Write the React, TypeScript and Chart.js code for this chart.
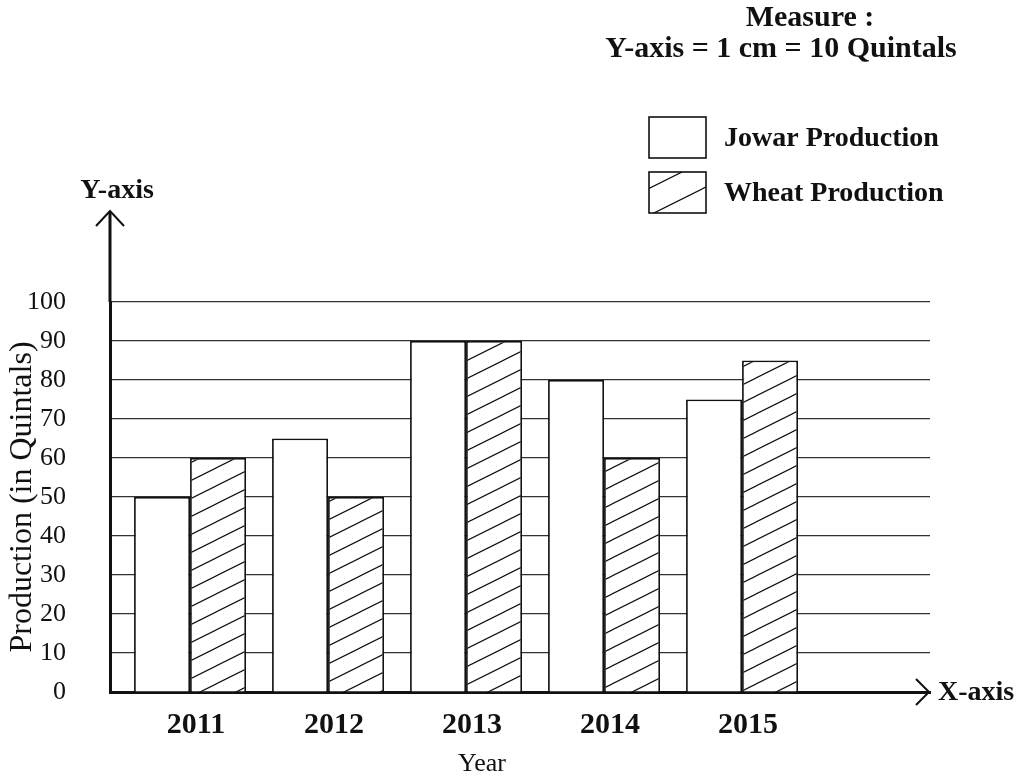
import { useEffect, useRef } from 'react';
import { Chart, registerables } from 'chart.js';

Chart.register(...registerables);

const years = [2011, 2012, 2013, 2014, 2015];
const jowarProduction = [50, 65, 90, 80, 75];
const wheatProduction = [60, 50, 90, 60, 85];
const yTickValues = [0, 10, 20, 30, 40, 50, 60, 70, 80, 90, 100];
const seriesLabels = ['Jowar Production', 'Wheat Production'];
const measureLines = ['Measure :', 'Y-axis = 1 cm = 10 Quintals'];
const xAxisName = 'X-axis';
const yAxisName = 'Y-axis';
const xTitle = 'Year';
const yTitle = 'Production (in Quintals)';

const SERIF = '"Liberation Serif", "Times New Roman", serif';
const INK = '#111';

function makeHatch(h: number, lw: number): CanvasPattern | string {
  const w = h * 2;
  const c = document.createElement('canvas');
  c.width = w;
  c.height = h;
  const g = c.getContext('2d');
  if (!g) return '#fff';
  g.fillStyle = '#fff';
  g.fillRect(0, 0, w, h);
  g.strokeStyle = INK;
  g.lineWidth = lw;
  g.beginPath();
  for (const dx of [-w, 0, w]) {
    for (const dy of [-h, 0, h]) {
      g.moveTo(dx, h + dy);
      g.lineTo(dx + w, dy);
    }
  }
  g.stroke();
  const p = g.createPattern(c, 'repeat');
  return p || '#fff';
}

export default function App() {
  const ref = useRef<HTMLCanvasElement | null>(null);

  useEffect(() => {
    const canvas = ref.current;
    if (!canvas) return;
    const barHatch = makeHatch(18, 1.2);
    const legendHatch = makeHatch(27, 1.2);

    const decor = {
      id: 'decor',
      afterDraw(chart: any) {
        const ctx = chart.ctx as CanvasRenderingContext2D;
        const area = chart.chartArea;
        const x0 = area.left;
        const y0 = area.bottom;
        ctx.save();
        ctx.strokeStyle = INK;
        ctx.fillStyle = INK;
        // Y axis extension + arrow
        const yTip = area.top - 91;
        ctx.lineWidth = 3;
        ctx.beginPath();
        ctx.moveTo(x0, area.top);
        ctx.lineTo(x0, yTip + 1);
        ctx.stroke();
        ctx.lineWidth = 2;
        ctx.beginPath();
        ctx.moveTo(x0 - 14, yTip + 15);
        ctx.lineTo(x0, yTip);
        ctx.lineTo(x0 + 14, yTip + 15);
        ctx.stroke();
        // X axis arrow
        const xTip = area.right - 1;
        ctx.beginPath();
        ctx.moveTo(xTip - 13, y0 - 13);
        ctx.lineTo(xTip, y0);
        ctx.lineTo(xTip - 13, y0 + 13);
        ctx.stroke();

        ctx.font = `bold 28px ${SERIF}`;
        ctx.textBaseline = 'middle';
        ctx.textAlign = 'left';
        ctx.fillText(xAxisName, area.right + 8, y0 + 1);
        ctx.textAlign = 'center';
        ctx.fillText(yAxisName, x0 + 7, yTip - 20);

        // X axis title
        ctx.font = `26px ${SERIF}`;
        ctx.fillText(xTitle, 482, 764);

        // Legend
        const boxes = [117, 172];
        chart.data.datasets.forEach((ds: any, i: number) => {
          const by = boxes[i];
          ctx.fillStyle = i === 1 ? legendHatch : '#fff';
          ctx.fillRect(649, by, 57, 41);
          ctx.lineWidth = 1.6;
          ctx.strokeStyle = INK;
          ctx.strokeRect(649, by, 57, 41);
          ctx.fillStyle = INK;
          ctx.textAlign = 'left';
          ctx.font = `bold 28px ${SERIF}`;
          ctx.fillText(ds.label, 724, by + 22);
        });

        // Measure title
        ctx.font = `bold 30px ${SERIF}`;
        ctx.textAlign = 'center';
        ctx.fillText(measureLines[0], 810, 18);
        ctx.fillText(measureLines[1], 781, 49);
        ctx.restore();
      },
    };

    const chart = new Chart(canvas, {
      type: 'bar',
      data: {
        datasets: [
          {
            label: seriesLabels[0],
            data: years.map((x, i) => ({ x, y: jowarProduction[i] })),
            backgroundColor: '#ffffff',
            borderColor: INK,
            borderWidth: 1.8,
            categoryPercentage: 0.8116,
            barPercentage: 1,
          },
          {
            label: seriesLabels[1],
            data: years.map((x, i) => ({ x, y: wheatProduction[i] })),
            backgroundColor: barHatch as any,
            borderColor: INK,
            borderWidth: 1.8,
            categoryPercentage: 0.8116,
            barPercentage: 1,
          },
        ],
      },
      options: {
        responsive: false,
        animation: false,
        layout: { padding: { top: 302, right: 87, left: 0, bottom: 0 } },
        scales: {
          x: {
            type: 'linear',
            min: 2010.42,
            max: 2016.362,
            offset: false,
            z: 1,
            afterBuildTicks: (s: any) => {
              s.ticks = years.map((v) => ({ value: v }));
            },
            afterFit: (s: any) => {
              s.height = 87;
            },
            grid: { display: false, drawTicks: false },
            border: { display: true, color: INK, width: 3 },
            ticks: {
              padding: 15,
              labelOffset: 6,
              autoSkip: false,
              maxRotation: 0,
              color: INK,
              font: { family: SERIF, size: 30, weight: 'bold' },
              callback: (v: any) => String(v),
            },
            title: { display: false, text: xTitle },
          },
          y: {
            min: 0,
            max: 100,
            afterBuildTicks: (s: any) => {
              s.ticks = yTickValues.map((v) => ({ value: v }));
            },
            afterFit: (s: any) => {
              s.width = 110;
            },
            grid: { color: '#333', lineWidth: 1.2, drawTicks: false },
            border: { display: true, color: INK, width: 3 },
            ticks: {
              padding: 44,
              color: INK,
              font: { family: SERIF, size: 26 },
            },
            title: {
              display: true,
              text: yTitle,
              color: INK,
              font: { family: SERIF, size: 32 },
              padding: { top: 3, bottom: 0 },
            },
          },
        },
        plugins: {
          legend: { display: false },
          tooltip: { enabled: false },
        },
      } as any,
      plugins: [decor],
    });
    return () => chart.destroy();
  }, []);

  return (
    <div style={{ position: 'absolute', left: 0, top: 0, width: 1017, height: 779, background: '#fff' }}>
      <canvas ref={ref} width={1017} height={779} style={{ display: 'block' }} />
    </div>
  );
}
